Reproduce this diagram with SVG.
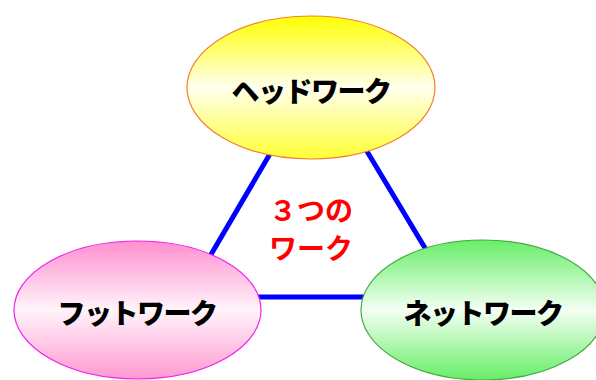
<svg xmlns="http://www.w3.org/2000/svg" width="596" height="380" viewBox="0 0 596 380">
<defs>
<linearGradient id="gY" x1="0" y1="0" x2="0" y2="1">
<stop offset="0" stop-color="#ffff00"/><stop offset="0.5" stop-color="#ffffee"/><stop offset="1" stop-color="#ffff33"/>
</linearGradient>
<linearGradient id="gP" x1="0" y1="0" x2="0" y2="1">
<stop offset="0" stop-color="#ff8fcf"/><stop offset="0.5" stop-color="#fff4fa"/><stop offset="1" stop-color="#ff99d0"/>
</linearGradient>
<linearGradient id="gG" x1="0" y1="0" x2="0" y2="1">
<stop offset="0" stop-color="#66ee66"/><stop offset="0.5" stop-color="#f4fff4"/><stop offset="1" stop-color="#66ee66"/>
</linearGradient>
</defs>
<style>
.lbl{font-family:"Noto Sans CJK JP","Noto Sans",sans-serif;font-weight:900;font-size:28px;letter-spacing:-1.5px;fill:#000;text-anchor:middle;dominant-baseline:central}
.ctr{font-family:"Noto Sans CJK JP","Noto Sans",sans-serif;font-weight:bold;font-size:28px;fill:#ff0000;text-anchor:middle;dominant-baseline:central}
.con{stroke:#0000ff;stroke-width:5;fill:none}
</style>
<rect width="596" height="380" fill="#ffffff"/>
<g id="connectors">
<line class="con" x1="274" y1="147" x2="206" y2="263"/>
<line class="con" x1="362" y1="143" x2="431" y2="258"/>
<line class="con" x1="250" y1="297" x2="372" y2="297"/>
</g>
<g id="head">
<ellipse cx="311" cy="87.5" rx="124" ry="71.5" fill="url(#gY)" stroke="#f08030" stroke-width="1.2"/>
<text class="lbl" x="311" y="90">ヘッドワーク</text>
</g>
<g id="foot">
<ellipse cx="137.5" cy="310" rx="123.5" ry="69" fill="url(#gP)" stroke="#ee22ee" stroke-width="1.2"/>
<text class="lbl" x="137" y="312">フットワーク</text>
</g>
<g id="net">
<ellipse cx="483" cy="310" rx="122" ry="70" fill="url(#gG)" stroke="#44aa44" stroke-width="1.2"/>
<text class="lbl" x="483" y="312">ネットワーク</text>
</g>
<g id="center">
<text class="ctr" x="311" y="209">３つの</text>
<text class="ctr" x="311" y="247">ワーク</text>
</g>
</svg>
